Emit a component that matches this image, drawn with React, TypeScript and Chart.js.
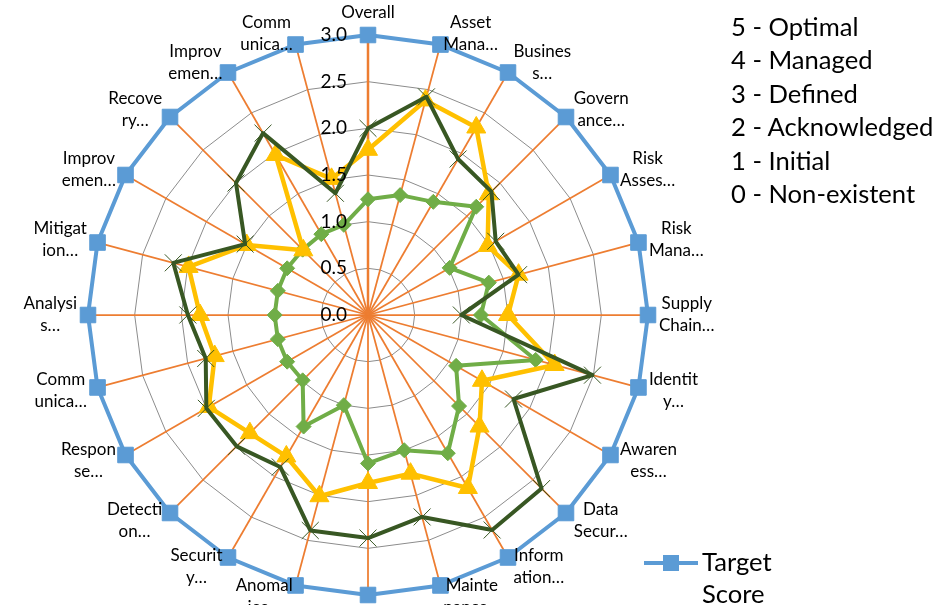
import React, { useEffect, useRef } from 'react';
import { Chart, registerables } from 'chart.js';

Chart.register(...registerables);

// ---- Data -------------------------------------------------------------
const CATEGORIES: string[][] = [
  ['Overall'],
  ['Asset', 'Mana…'],
  ['Busines', 's…'],
  ['Govern', 'ance…'],
  ['Risk', 'Asses…'],
  ['Risk', 'Mana…'],
  ['Supply', 'Chain…'],
  ['Identit', 'y…'],
  ['Awaren', 'ess…'],
  ['Data', 'Secur…'],
  ['Inform', 'ation…'],
  ['Mainte', 'nance…'],
  ['Protec', 'tive…'],
  ['Anomal', 'ies…'],
  ['Securit', 'y…'],
  ['Detecti', 'on…'],
  ['Respon', 'se…'],
  ['Comm', 'unica…'],
  ['Analysi', 's…'],
  ['Mitigat', 'ion…'],
  ['Improv', 'emen…'],
  ['Recove', 'ry…'],
  ['Improv', 'emen…'],
  ['Comm', 'unica…'],
];

const TARGET_SCORE = [3, 3, 3, 3, 3, 3, 3, 3, 3, 3, 3, 3, 3, 3, 3, 3, 3, 3, 3, 3, 3, 3, 3, 3];
const SERIES_YELLOW = [1.77, 2.38, 2.32, 1.83, 1.48, 1.67, 1.5, 2.07, 1.41, 1.69, 2.14, 1.76, 1.8, 2.01, 1.75, 1.79, 1.97, 1.7, 1.8, 1.99, 1.5, 0.98, 1.98, 1.51];
const SERIES_DARK_GREEN = [2.0, 2.42, 1.93, 1.87, 1.58, 1.67, 1.0, 2.49, 1.8, 2.63, 2.66, 2.24, 2.39, 2.39, 1.88, 1.99, 2.0, 1.8, 1.93, 2.16, 1.52, 2.0, 2.25, 1.35];
const SERIES_LIGHT_GREEN = [1.24, 1.33, 1.4, 1.64, 1.01, 1.34, 1.21, 1.86, 1.09, 1.38, 1.71, 1.5, 1.59, 1.0, 1.38, 0.99, 1.0, 1.0, 1.0, 1.0, 1.0, 0.99, 1.0, 1.0];

const TICK_VALUES = [0, 0.5, 1, 1.5, 2, 2.5, 3];
const TICK_LABELS = ['0.0', '0.5', '1.0', '1.5', '2.0', '2.5', '3.0'];

const MATURITY_LEVELS = ['5 - Optimal', '4 - Managed', '3 - Defined', '2 - Acknowledged', '1 - Initial', '0 - Non-existent'];
const TARGET_LABEL = ['Target', 'Score'];

// ---- Styles -----------------------------------------------------------
const FONT = 'Lato, "Open Sans", sans-serif';
const BLUE = '#5B9BD5';
const YELLOW = '#FFC000';
const DARK_GREEN = '#385723';
const LIGHT_GREEN = '#70AD47';
const ORANGE = '#ED7D31';
const GRID = '#8C8C8C';

const labelPlugin = {
  id: 'excelLabels',
  afterDatasetsDraw(chart: any) {
    const scale = chart.scales.r;
    const ctx = chart.ctx as CanvasRenderingContext2D;
    ctx.save();
    // tick labels
    ctx.font = `19px ${FONT}`;
    ctx.fillStyle = '#000';
    ctx.textAlign = 'right';
    ctx.textBaseline = 'middle';
    TICK_VALUES.forEach((v, i) => {
      const d = scale.getDistanceFromCenterForValue(v);
      ctx.fillText(TICK_LABELS[i], scale.xCenter - 21, scale.yCenter - d);
    });
    // point labels
    ctx.font = `17px ${FONT}`;
    const LH = 22;
    CATEGORIES.forEach((lines, i) => {
      const a = scale.getIndexAngle(i);
      const p = scale.getPointPosition(i, scale.drawingArea + 11);
      const s = Math.sin(a);
      const c = Math.cos(a);
      const bw = Math.max(...lines.map((l) => ctx.measureText(l).width));
      const bh = lines.length * LH;
      let cx: number;
      let top: number;
      if (Math.abs(s) < 1e-6) {
        cx = p.x;
        top = c > 0 ? p.y - bh : p.y;
      } else {
        cx = s > 0 ? p.x + bw / 2 : p.x - bw / 2;
        top = p.y - bh / 2;
      }
      ctx.textAlign = 'center';
      ctx.textBaseline = 'middle';
      lines.forEach((l, k) => ctx.fillText(l, cx, top + LH * (k + 0.5)));
    });
    ctx.restore();
  },
};

export default function App() {
  const ref = useRef<HTMLCanvasElement>(null);

  useEffect(() => {
    if (!ref.current) return;
    const common = { fill: false, clip: false, tension: 0, borderJoinStyle: 'round' as const };
    const chart = new Chart(ref.current, {
      type: 'radar',
      data: {
        labels: CATEGORIES.map((l) => l.join('')),
        datasets: [
          {
            ...common,
            label: 'Assessment B',
            data: SERIES_DARK_GREEN,
            borderColor: DARK_GREEN,
            backgroundColor: 'transparent',
            borderWidth: 4,
            pointStyle: 'crossRot',
            pointRadius: 12,
            pointBorderColor: DARK_GREEN,
            pointBackgroundColor: DARK_GREEN,
            pointBorderWidth: 1,
          },
          {
            ...common,
            label: 'Assessment A',
            data: SERIES_YELLOW,
            borderColor: YELLOW,
            backgroundColor: 'transparent',
            borderWidth: 4.5,
            pointStyle: 'triangle',
            pointRadius: 11,
            pointBorderColor: YELLOW,
            pointBackgroundColor: YELLOW,
            pointBorderWidth: 1,
          },
          {
            ...common,
            label: 'Assessment C',
            data: SERIES_LIGHT_GREEN,
            borderColor: LIGHT_GREEN,
            backgroundColor: 'transparent',
            borderWidth: 4,
            pointStyle: 'rectRot',
            pointRadius: 7.5,
            pointBorderColor: LIGHT_GREEN,
            pointBackgroundColor: LIGHT_GREEN,
            pointBorderWidth: 1,
          },
          {
            ...common,
            label: 'Target Score',
            data: TARGET_SCORE,
            borderColor: BLUE,
            backgroundColor: 'transparent',
            borderWidth: 4,
            pointStyle: 'rect',
            pointRadius: 11,
            pointBorderColor: BLUE,
            pointBackgroundColor: BLUE,
            pointBorderWidth: 1,
          },
        ],
      },
      options: {
        responsive: false,
        animation: false,
        events: [],
        layout: { padding: { left: 88, right: 297, top: 35, bottom: 10 } },
        plugins: { legend: { display: false }, tooltip: { enabled: false } },
        scales: {
          r: {
            min: 0,
            max: 3,
            ticks: { stepSize: 0.5, display: false },
            pointLabels: { display: false },
            grid: { color: GRID, lineWidth: 1 },
            angleLines: {
              color: ORANGE,
              lineWidth: (ctx: any) => (ctx.index === 0 ? 2.5 : 1.75),
            },
          },
        },
      },
      plugins: [labelPlugin],
    } as any);
    return () => chart.destroy();
  }, []);

  return (
    <div
      style={{
        position: 'fixed',
        left: 0,
        top: 0,
        width: 945,
        height: 605,
        overflow: 'hidden',
        background: '#fff',
        fontFamily: FONT,
        color: '#000',
      }}
    >
      <canvas ref={ref} width={945} height={605} style={{ position: 'absolute', left: 0, top: 0 }} />
      <div style={{ position: 'absolute', left: 731, top: 10, fontSize: 25.6, lineHeight: '33.4px' }}>
        {MATURITY_LEVELS.map((t) => (
          <div key={t} style={{ whiteSpace: 'nowrap' }}>
            {t}
          </div>
        ))}
      </div>
      <div style={{ position: 'absolute', left: 644, top: 561, width: 54, height: 4, background: BLUE }} />
      <div style={{ position: 'absolute', left: 663, top: 555, width: 16, height: 16, background: BLUE }} />
      <div style={{ position: 'absolute', left: 702, top: 545, fontSize: 25.6, lineHeight: '32px' }}>
        {TARGET_LABEL.map((t) => (
          <div key={t}>{t}</div>
        ))}
      </div>
    </div>
  );
}
